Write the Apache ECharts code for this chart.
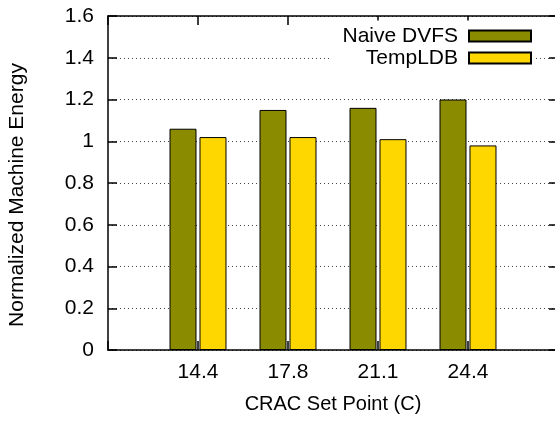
<!DOCTYPE html>
<html><head><meta charset="utf-8">
<script src="https://cdn.jsdelivr.net/npm/echarts@6/dist/echarts.min.js"></script>
<style>html,body{margin:0;padding:0;background:#fff}#c{width:555px;height:421px}</style>
</head><body><div id="c"></div>
<script>
const categories = ['14.4', '17.8', '21.1', '24.4'];
const naiveDVFS = [1.06, 1.15, 1.16, 1.20];
const tempLDB = [1.02, 1.02, 1.01, 0.98];
const seriesNames = ['Naive DVFS', 'TempLDB'];
const yMin = 0, yMax = 1.6, yStep = 0.2;

const FONT = 'Liberation Sans, Arial, Helvetica, sans-serif';
const chart = echarts.init(document.getElementById('c'), null, {renderer: 'canvas'});
const mkLine = () => ({show: true, onZero: false, lineStyle: {color: '#000', width: 1.5}});
const mkTick = () => ({show: true, inside: true, length: 9, lineStyle: {color: '#000', width: 1.5}});
chart.setOption({
  animation: false,
  backgroundColor: '#fff',
  textStyle: {fontFamily: FONT},
  grid: {left: 108, top: 16, width: 450, height: 334, containLabel: false, outerBoundsMode: 'none'},
  legend: {
    data: seriesNames, orient: 'vertical', align: 'right', right: 19, top: 20.5,
    icon: 'rect', itemWidth: 62, itemHeight: 11, itemGap: 1,
    backgroundColor: '#fff', padding: [5, 4, 5, 13], borderRadius: 0,
    textStyle: {fontSize: 21, color: '#000', fontFamily: FONT, lineHeight: 21, padding: [0, 6, 0, 0]}
  },
  xAxis: [{
    type: 'value', min: -1, max: 4, interval: 1, position: 'bottom',
    axisLine: mkLine(), axisTick: mkTick(),
    axisLabel: {formatter: v => (categories[v] !== undefined ? categories[v] : ''), fontSize: 21, color: '#000', margin: 12, fontFamily: FONT},
    splitLine: {show: false},
    name: 'CRAC Set Point (C)', nameLocation: 'middle', nameGap: 44,
    nameTextStyle: {fontSize: 20, color: '#000', fontFamily: FONT}
  }, {
    type: 'value', min: -1, max: 4, interval: 1, position: 'top', gridIndex: 0,
    axisLine: mkLine(), axisTick: mkTick(), axisLabel: {show: false}, splitLine: {show: false}
  }],
  yAxis: [{
    type: 'value', min: yMin, max: yMax, interval: yStep, position: 'left',
    axisLine: mkLine(), axisTick: mkTick(),
    axisLabel: {fontSize: 21, color: '#000', margin: 14, fontFamily: FONT},
    splitLine: {show: true, lineStyle: {type: [1, 3], color: '#444', width: 1}},
    name: 'Normalized Machine Energy', nameLocation: 'middle', nameGap: 80, nameRotate: 90,
    nameTextStyle: {fontSize: 21, color: '#000', fontFamily: FONT, padding: [0, 24, 0, 0]}
  }, {
    type: 'value', min: yMin, max: yMax, interval: yStep, position: 'right', gridIndex: 0,
    axisLine: mkLine(), axisTick: mkTick(), axisLabel: {show: false}, splitLine: {show: false}
  }],
  series: [{
    name: seriesNames[0], type: 'bar', xAxisIndex: 0, yAxisIndex: 0,
    barWidth: 27, barGap: '11%',
    itemStyle: {color: '#8b8b00', borderColor: '#000', borderWidth: 1},
    data: naiveDVFS.map((v, i) => [i, v])
  }, {
    name: seriesNames[1], type: 'bar', xAxisIndex: 0, yAxisIndex: 0,
    barWidth: 27, barGap: '11%',
    itemStyle: {color: '#ffd700', borderColor: '#000', borderWidth: 1},
    data: tempLDB.map((v, i) => [i, v])
  }]
});
</script></body></html>
